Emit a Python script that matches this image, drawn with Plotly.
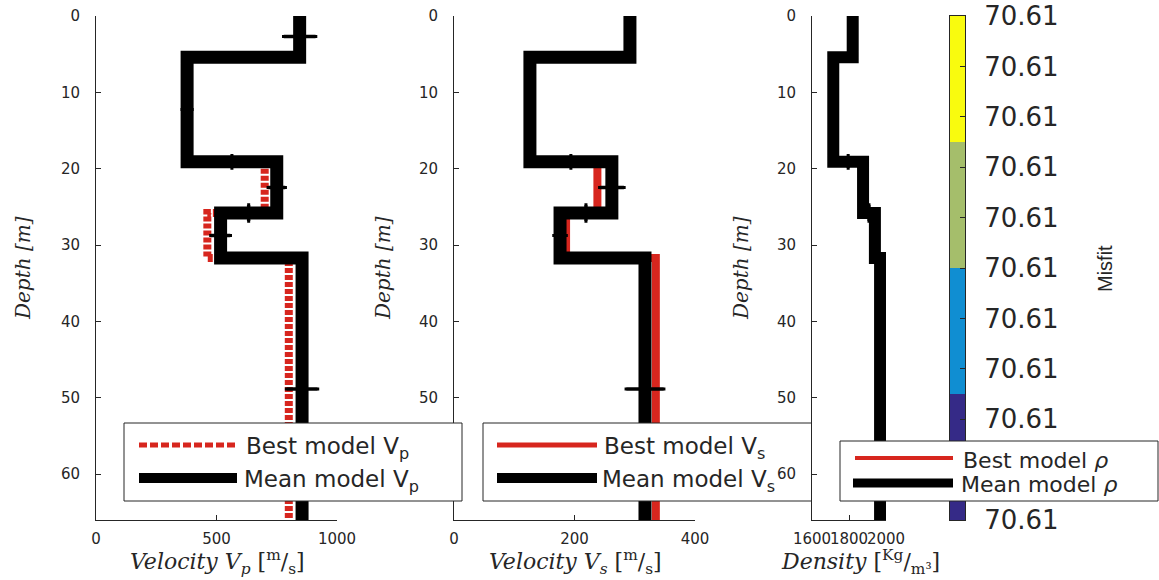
import plotly.graph_objects as go

# ---- layered model: depth of each layer top (m) and bottom of the profile ----
layer_tops = [0.0, 5.4, 19.1, 25.8, 31.7]
max_depth = 66.0

# ---- best and mean inverted models per layer ----
vp_best = [845, 378, 700, 462, 800]
vp_mean = [845, 378, 750, 517, 855]
vs_best = [295, 126, 238, 186, 335]
vs_mean = [292, 126, 262, 176, 317]
rho_best = [1820, 1712, 1876, 1940, 1970]
rho_mean = [1820, 1715, 1876, 1940, 1968]

# ---- uncertainties: property per layer, depth per interface ----
vp_err = [66, 20, 35, 40, 64]
vs_err = [5, 5, 20, 10, 31]
rho_err = [5, 5, 5, 12, 8]
depth_err = [0.3, 0.8, 1.05, 0.3]

# ---- misfit colour scale ----
misfit_levels = [0, 1, 2, 3]
misfit_colors = ["#352a87", "#108ed2", "#a5be6b", "#f9fb0e"]
misfit_tick_labels = ["70.61"] * 11

depth_ticks = [0, 10, 20, 30, 40, 50, 60]
vp_ticks = [0, 500, 1000]
vs_ticks = [0, 200, 400]
rho_ticks = [1600, 1800, 2000]

W, H = 1159, 580
AX = "#262626"
RED = "#d7261e"


def fx(p):
    return p / W


def fy(p):
    return 1 - p / H


ydom = [fy(520), fy(16)]
mids = [(a + b) / 2 for a, b in zip(layer_tops, layer_tops[1:] + [max_depth])]


def profile(vals):
    return vals + [vals[-1]], layer_tops + [max_depth]


fig = go.Figure()

panels = [
    ("x", "y", vp_best, vp_mean, vp_err, "5px,2px"),
    ("x2", "y2", vs_best, vs_mean, vs_err, "solid"),
    ("x3", "y3", rho_best, rho_mean, rho_err, "solid"),
]
widths = [(8, 13), (8, 13), (7, 12)]
for (xa, ya, best, mean, err, dash), (wb, wm) in zip(panels, widths):
    bx, by = profile(best)
    fig.add_trace(go.Scatter(x=bx, y=by, mode="lines", line_shape="vh",
                             line=dict(color=RED, width=wb, dash=dash),
                             xaxis=xa, yaxis=ya, showlegend=False, hoverinfo="skip"))
    mx, my = profile(mean)
    fig.add_trace(go.Scatter(x=mx, y=my, mode="lines", line_shape="vh",
                             line=dict(color="black", width=wm),
                             xaxis=xa, yaxis=ya, showlegend=False, hoverinfo="skip"))
    # property uncertainty at layer mid-depth
    fig.add_trace(go.Scatter(x=mean, y=mids, mode="markers",
                             marker=dict(size=1, color="black"),
                             error_x=dict(type="data", array=err, color="black",
                                          thickness=3.5, width=1.5),
                             xaxis=xa, yaxis=ya, showlegend=False, hoverinfo="skip"))
    # interface depth uncertainty at the middle of each step
    ix = [(a + b) / 2 for a, b in zip(mean[:-1], mean[1:])]
    fig.add_trace(go.Scatter(x=ix, y=layer_tops[1:], mode="markers",
                             marker=dict(size=1, color="black"),
                             error_y=dict(type="data", array=depth_err, color="black",
                                          thickness=3.5, width=1.5),
                             xaxis=xa, yaxis=ya, showlegend=False, hoverinfo="skip"))

# misfit colour bar drawn as a one-column heatmap
cs = []
n = len(misfit_colors)
for i, c in enumerate(misfit_colors):
    cs += [[i / n, c], [(i + 1) / n, c]]
fig.add_trace(go.Heatmap(z=[[v] for v in misfit_levels], x=[0],
                         y=[1.25, 3.75, 6.25, 8.75], colorscale=cs,
                         zmin=-0.5, zmax=3.5, showscale=False,
                         xaxis="x4", yaxis="y4", hoverinfo="skip"))

tickfont = dict(family="DejaVu Sans", size=15, color=AX)


def xax(dom, rng, tv, anchor):
    return dict(domain=[fx(dom[0]), fx(dom[1])], range=rng, tickvals=tv,
                ticks="inside", ticklen=5, tickcolor=AX, showline=True,
                linecolor=AX, linewidth=1, showgrid=False, zeroline=False,
                tickfont=tickfont, tickangle=0, anchor=anchor,
                ticklabelstandoff=5, automargin=False)


def yax(anchor):
    return dict(domain=ydom, range=[max_depth, 0], tickvals=depth_ticks,
                ticks="inside", ticklen=5, tickcolor=AX, showline=True,
                linecolor=AX, linewidth=1, showgrid=False, zeroline=False,
                tickfont=tickfont, anchor=anchor, ticklabelstandoff=12,
                automargin=False)


fig.update_layout(
    width=W, height=H,
    margin=dict(l=0, r=0, t=0, b=0, pad=0, autoexpand=False),
    paper_bgcolor="white", plot_bgcolor="white", showlegend=False,
    xaxis=xax((96, 337), [0, 1000], vp_ticks, "y"),
    xaxis2=xax((454, 695), [0, 400], vs_ticks, "y2"),
    xaxis3=xax((812, 886), [1600, 2000], rho_ticks, "y3"),
    yaxis=yax("x"), yaxis2=yax("x2"), yaxis3=yax("x3"),
    xaxis4=dict(domain=[fx(950), fx(965)], range=[-0.5, 0.5], showticklabels=False,
                ticks="", showline=True, mirror=True, linecolor=AX, linewidth=1,
                showgrid=False, zeroline=False, anchor="y4", automargin=False),
    yaxis4=dict(domain=ydom, range=[0, 10], side="right", anchor="x4",
                tickvals=list(range(11)), ticktext=misfit_tick_labels,
                ticks="inside", ticklen=5, tickcolor=AX, showline=True, mirror=True,
                linecolor=AX, linewidth=1, showgrid=False, zeroline=False,
                tickfont=dict(family="DejaVu Sans", size=26, color=AX),
                ticklabelstandoff=13, automargin=False),
)

shapes = []
ann = []


def seg(x0, y0, x1, y1, color, width, dash="solid"):
    shapes.append(dict(type="line", xref="paper", yref="paper", layer="above",
                       x0=fx(x0), x1=fx(x1), y0=fy(y0), y1=fy(y1),
                       line=dict(color=color, width=width, dash=dash)))


def rect(x0, y0, x1, y1, line=True):
    shapes.append(dict(type="rect", xref="paper", yref="paper", layer="above",
                       x0=fx(x0), x1=fx(x1), y0=fy(y1), y1=fy(y0),
                       fillcolor="white",
                       line=dict(color=AX, width=1) if line else dict(width=0)))


def text(x, y, s, size=23, family="DejaVu Sans", angle=0, xanchor="left"):
    ann.append(dict(x=fx(x), y=fy(y), xref="paper", yref="paper", text=s,
                    showarrow=False, xanchor=xanchor, yanchor="middle",
                    textangle=angle, font=dict(family=family, size=size, color=AX)))


# legend, P-wave panel
rect(124, 423, 462, 501)
seg(139, 445, 236, 445, RED, 5, "8px,3px")
seg(139, 478, 237, 478, "black", 10)
text(244, 448, "Best model V<sub>p</sub>")
text(242, 481, "Mean model V<sub>p</sub>")

# legend, S-wave panel (right part lies under the density axes)
rect(483, 423, 770, 501, line=False)
seg(483, 423, 812, 423, AX, 1)
seg(483, 501, 812, 501, AX, 1)
seg(483, 423, 483, 501, AX, 1)
seg(497, 445, 597, 445, RED, 5)
seg(497, 478, 597, 478, "black", 10)
text(602, 448, "Best model V<sub>s</sub>")
text(600, 481, "Mean model V<sub>s</sub>")

# legend, density panel
rect(840, 441, 1158, 501)
seg(855, 458, 953, 458, RED, 4)
seg(853, 483, 953, 483, "black", 9)
text(961, 460, "Best model <i>ρ</i>", size=22)
text(959, 485, "Mean model <i>ρ</i>", size=22)

# axis titles
serif = "DejaVu Serif"
for x0 in (23, 383, 741):
    text(x0, 268, "<i>Depth [m]</i>", size=20, family=serif, angle=-90, xanchor="center")
text(217, 562, "<i>Velocity V<sub>p</sub></i> [<sup>m</sup>/<sub>s</sub>]", size=22,
     family=serif, xanchor="center")
text(575, 562, "<i>Velocity V<sub>s</sub></i> [<sup>m</sup>/<sub>s</sub>]", size=22,
     family=serif, xanchor="center")
text(860, 562, "<i>Density</i> [<sup>Kg</sup>/<sub>m³</sub>]", size=22,
     family=serif, xanchor="center")
text(1105, 269, "Misfit", size=20, family="Liberation Sans", angle=-90,
     xanchor="center")

fig.update_layout(shapes=shapes, annotations=ann)
fig.write_html("out.html")
